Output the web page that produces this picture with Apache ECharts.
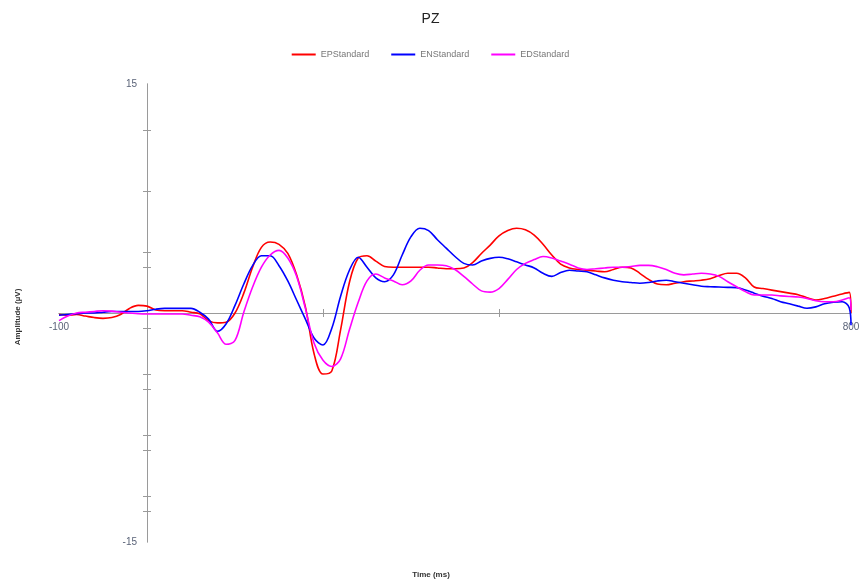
<!DOCTYPE html>
<html>
<head>
<meta charset="utf-8">
<script src="https://cdn.jsdelivr.net/npm/echarts@6/dist/echarts.min.js"></script>
<style>
html,body{margin:0;padding:0;background:#fff;}
#chart{width:861px;height:582px;}
</style>
</head>
<body>
<div id="chart"></div>
<script>
var times = [-100,-90,-80,-70,-60,-50,-40,-30,-20,-10,0,10,20,30,40,50,60,70,80,90,100,110,120,130,140,150,160,170,180,190,200,210,220,230,240,250,260,270,280,290,300,310,320,330,340,350,360,370,380,390,400,410,420,430,440,450,460,470,480,490,500,510,520,530,540,550,560,570,580,590,600,610,620,630,640,650,660,670,680,690,700,710,720,730,740,750,760,770,780,790,798,800];

var epStandard = [-0.1,-0.15,-0.1,-0.2,-0.3,-0.35,-0.3,-0.1,0.3,0.5,0.45,0.2,0.15,0.15,0.15,0.05,-0.05,-0.5,-0.65,-0.6,0.0,1.3,3.0,4.3,4.65,4.5,3.9,2.5,0.4,-2.7,-4.0,-3.8,-1.1,2.0,3.6,3.75,3.4,3.05,3.0,3.0,3.0,3.0,3.0,2.95,2.9,2.9,2.95,3.3,3.9,4.45,5.05,5.4,5.55,5.45,5.1,4.5,3.8,3.2,2.95,2.85,2.8,2.75,2.7,2.85,3.0,2.95,2.6,2.2,1.9,1.85,1.95,2.05,2.1,2.15,2.25,2.45,2.6,2.6,2.3,1.7,1.6,1.5,1.4,1.3,1.2,1.0,0.85,0.95,1.1,1.25,1.35,0.0];

var enStandard = [-0.15,-0.1,-0.05,0.0,0.0,0.05,0.1,0.1,0.1,0.1,0.15,0.25,0.3,0.3,0.3,0.3,0.05,-0.4,-1.2,-0.7,0.5,1.9,3.1,3.75,3.75,3.1,2.1,0.85,-0.4,-1.65,-2.1,-1.0,1.1,2.8,3.65,3.0,2.3,2.05,2.5,3.8,5.0,5.55,5.4,4.8,4.25,3.7,3.25,3.14,3.4,3.58,3.65,3.55,3.35,3.15,2.95,2.6,2.4,2.65,2.8,2.75,2.7,2.5,2.3,2.15,2.05,2.0,1.95,2.0,2.1,2.15,2.05,1.95,1.85,1.75,1.72,1.7,1.68,1.66,1.5,1.3,1.1,0.95,0.74,0.6,0.45,0.31,0.4,0.6,0.7,0.74,0.35,-0.8];

var edStandard = [-0.5,-0.2,0.0,0.05,0.1,0.15,0.12,0.05,0.0,-0.05,-0.07,-0.07,-0.07,-0.07,-0.07,-0.15,-0.25,-0.6,-1.3,-2.05,-1.8,0.05,1.7,3.0,3.8,4.1,3.6,2.4,0.3,-2.0,-3.1,-3.5,-3.0,-1.1,0.7,2.1,2.55,2.3,2.1,1.85,2.1,2.8,3.14,3.14,3.1,2.85,2.4,1.9,1.45,1.37,1.6,2.2,2.85,3.25,3.5,3.7,3.6,3.4,3.2,2.95,2.85,2.9,2.95,3.0,3.0,3.05,3.12,3.12,3.03,2.85,2.6,2.5,2.55,2.6,2.55,2.4,2.05,1.72,1.4,1.18,1.18,1.18,1.12,1.08,1.05,0.95,0.8,0.74,0.74,0.85,1.0,0.2];

var xLabelValues = [-100, 800];
var xTickValues = [200, 400];
var yLabelValues = [-15, 15];
var yTickValues = [-13,-12,-9,-8,-5,-4,-1,3,4,8,12];

var xMin = -100, xMax = 800, yMin = -15, yMax = 15;

function pairs(vals){ return times.map(function(t,i){ return [t, vals[i]]; }); }

var W = 861, H = 582;
var gridL = 59, gridR = 10, gridT = 84, gridB = 40;
var gridW = W - gridL - gridR, gridH = H - gridT - gridB;
// move axes onto the zero lines (labels follow the axis)
var yAxisOffset = -((0 - xMin) / (xMax - xMin)) * gridW;
var xAxisOffset = -((0 - yMin) / (yMax - yMin)) * gridH;

var axisGray = '#9a9a9a';
var labelColor = '#5a6378';
var font = 'Liberation Sans, Arial';

var chart = echarts.init(document.getElementById('chart'), null, {renderer:'canvas'});
var option = {
  animation: false,
  backgroundColor: '#fff',
  title: {
    text: 'PZ', left: 'center', top: 7,
    textStyle: {fontFamily: font, fontSize: 14, fontWeight: 'normal', color: '#222'}
  },
  legend: {
    top: 45, left: 'center', itemWidth: 24, itemHeight: 2, itemGap: 22, icon: 'rect',
    textStyle: {fontFamily: font, fontSize: 9, color: '#777'},
    data: ['EPStandard','ENStandard','EDStandard']
  },
  grid: {left: gridL, right: gridR, top: gridT, bottom: gridB, containLabel: false, outerBoundsMode: 'none'},
  graphic: [
    {type: 'text', x: 18, y: 317, rotation: Math.PI/2,
     style: {text: 'Amplitude (\u00b5V)', fill: '#333', font: 'bold 8px Liberation Sans, Arial', align: 'center', verticalAlign: 'middle'}},
    {type: 'text', x: 431, y: 575,
     style: {text: 'Time (ms)', fill: '#333', font: 'bold 8px Liberation Sans, Arial', align: 'center', verticalAlign: 'middle'}}
  ],
  xAxis: [
    {type: 'value', min: xMin, max: xMax, position: 'bottom', offset: xAxisOffset, splitLine: {show: false},
     axisLine: {onZero: false, lineStyle: {color: axisGray, width: 1}},
     axisTick: {show: true, customValues: xTickValues, length: 4, inside: false, lineStyle: {color: axisGray}},
     axisLabel: {customValues: xLabelValues, margin: 9, fontSize: 10, color: labelColor, fontFamily: font}},
    {type: 'value', min: xMin, max: xMax, position: 'bottom', offset: xAxisOffset, splitLine: {show: false},
     axisLine: {onZero: false, lineStyle: {color: axisGray, width: 1}},
     axisTick: {show: true, customValues: xTickValues, length: 4, inside: true, lineStyle: {color: axisGray}},
     axisLabel: {show: false}}
  ],
  yAxis: [
    {type: 'value', min: yMin, max: yMax, position: 'left', offset: yAxisOffset, splitLine: {show: false},
     axisLine: {onZero: false, lineStyle: {color: axisGray, width: 1}},
     axisTick: {show: true, customValues: yTickValues, length: 4, inside: false, lineStyle: {color: axisGray}},
     axisLabel: {customValues: yLabelValues, margin: 10, fontSize: 10, color: labelColor, fontFamily: font}},
    {type: 'value', min: yMin, max: yMax, position: 'left', offset: yAxisOffset, splitLine: {show: false},
     axisLine: {onZero: false, lineStyle: {color: axisGray, width: 1}},
     axisTick: {show: true, customValues: yTickValues, length: 4, inside: true, lineStyle: {color: axisGray}},
     axisLabel: {show: false}}
  ],
  series: [
    {name: 'EPStandard', type: 'line', data: pairs(epStandard), showSymbol: false, symbol: 'none', smooth: 0.35,
     lineStyle: {color: '#ff0000', width: 1.6}, itemStyle: {color: '#ff0000'}},
    {name: 'ENStandard', type: 'line', data: pairs(enStandard), showSymbol: false, symbol: 'none', smooth: 0.35,
     lineStyle: {color: '#0000ff', width: 1.6}, itemStyle: {color: '#0000ff'}},
    {name: 'EDStandard', type: 'line', data: pairs(edStandard), showSymbol: false, symbol: 'none', smooth: 0.35,
     lineStyle: {color: '#ff00ff', width: 1.6}, itemStyle: {color: '#ff00ff'}}
  ]
};
chart.setOption(option);
</script>
</body>
</html>
